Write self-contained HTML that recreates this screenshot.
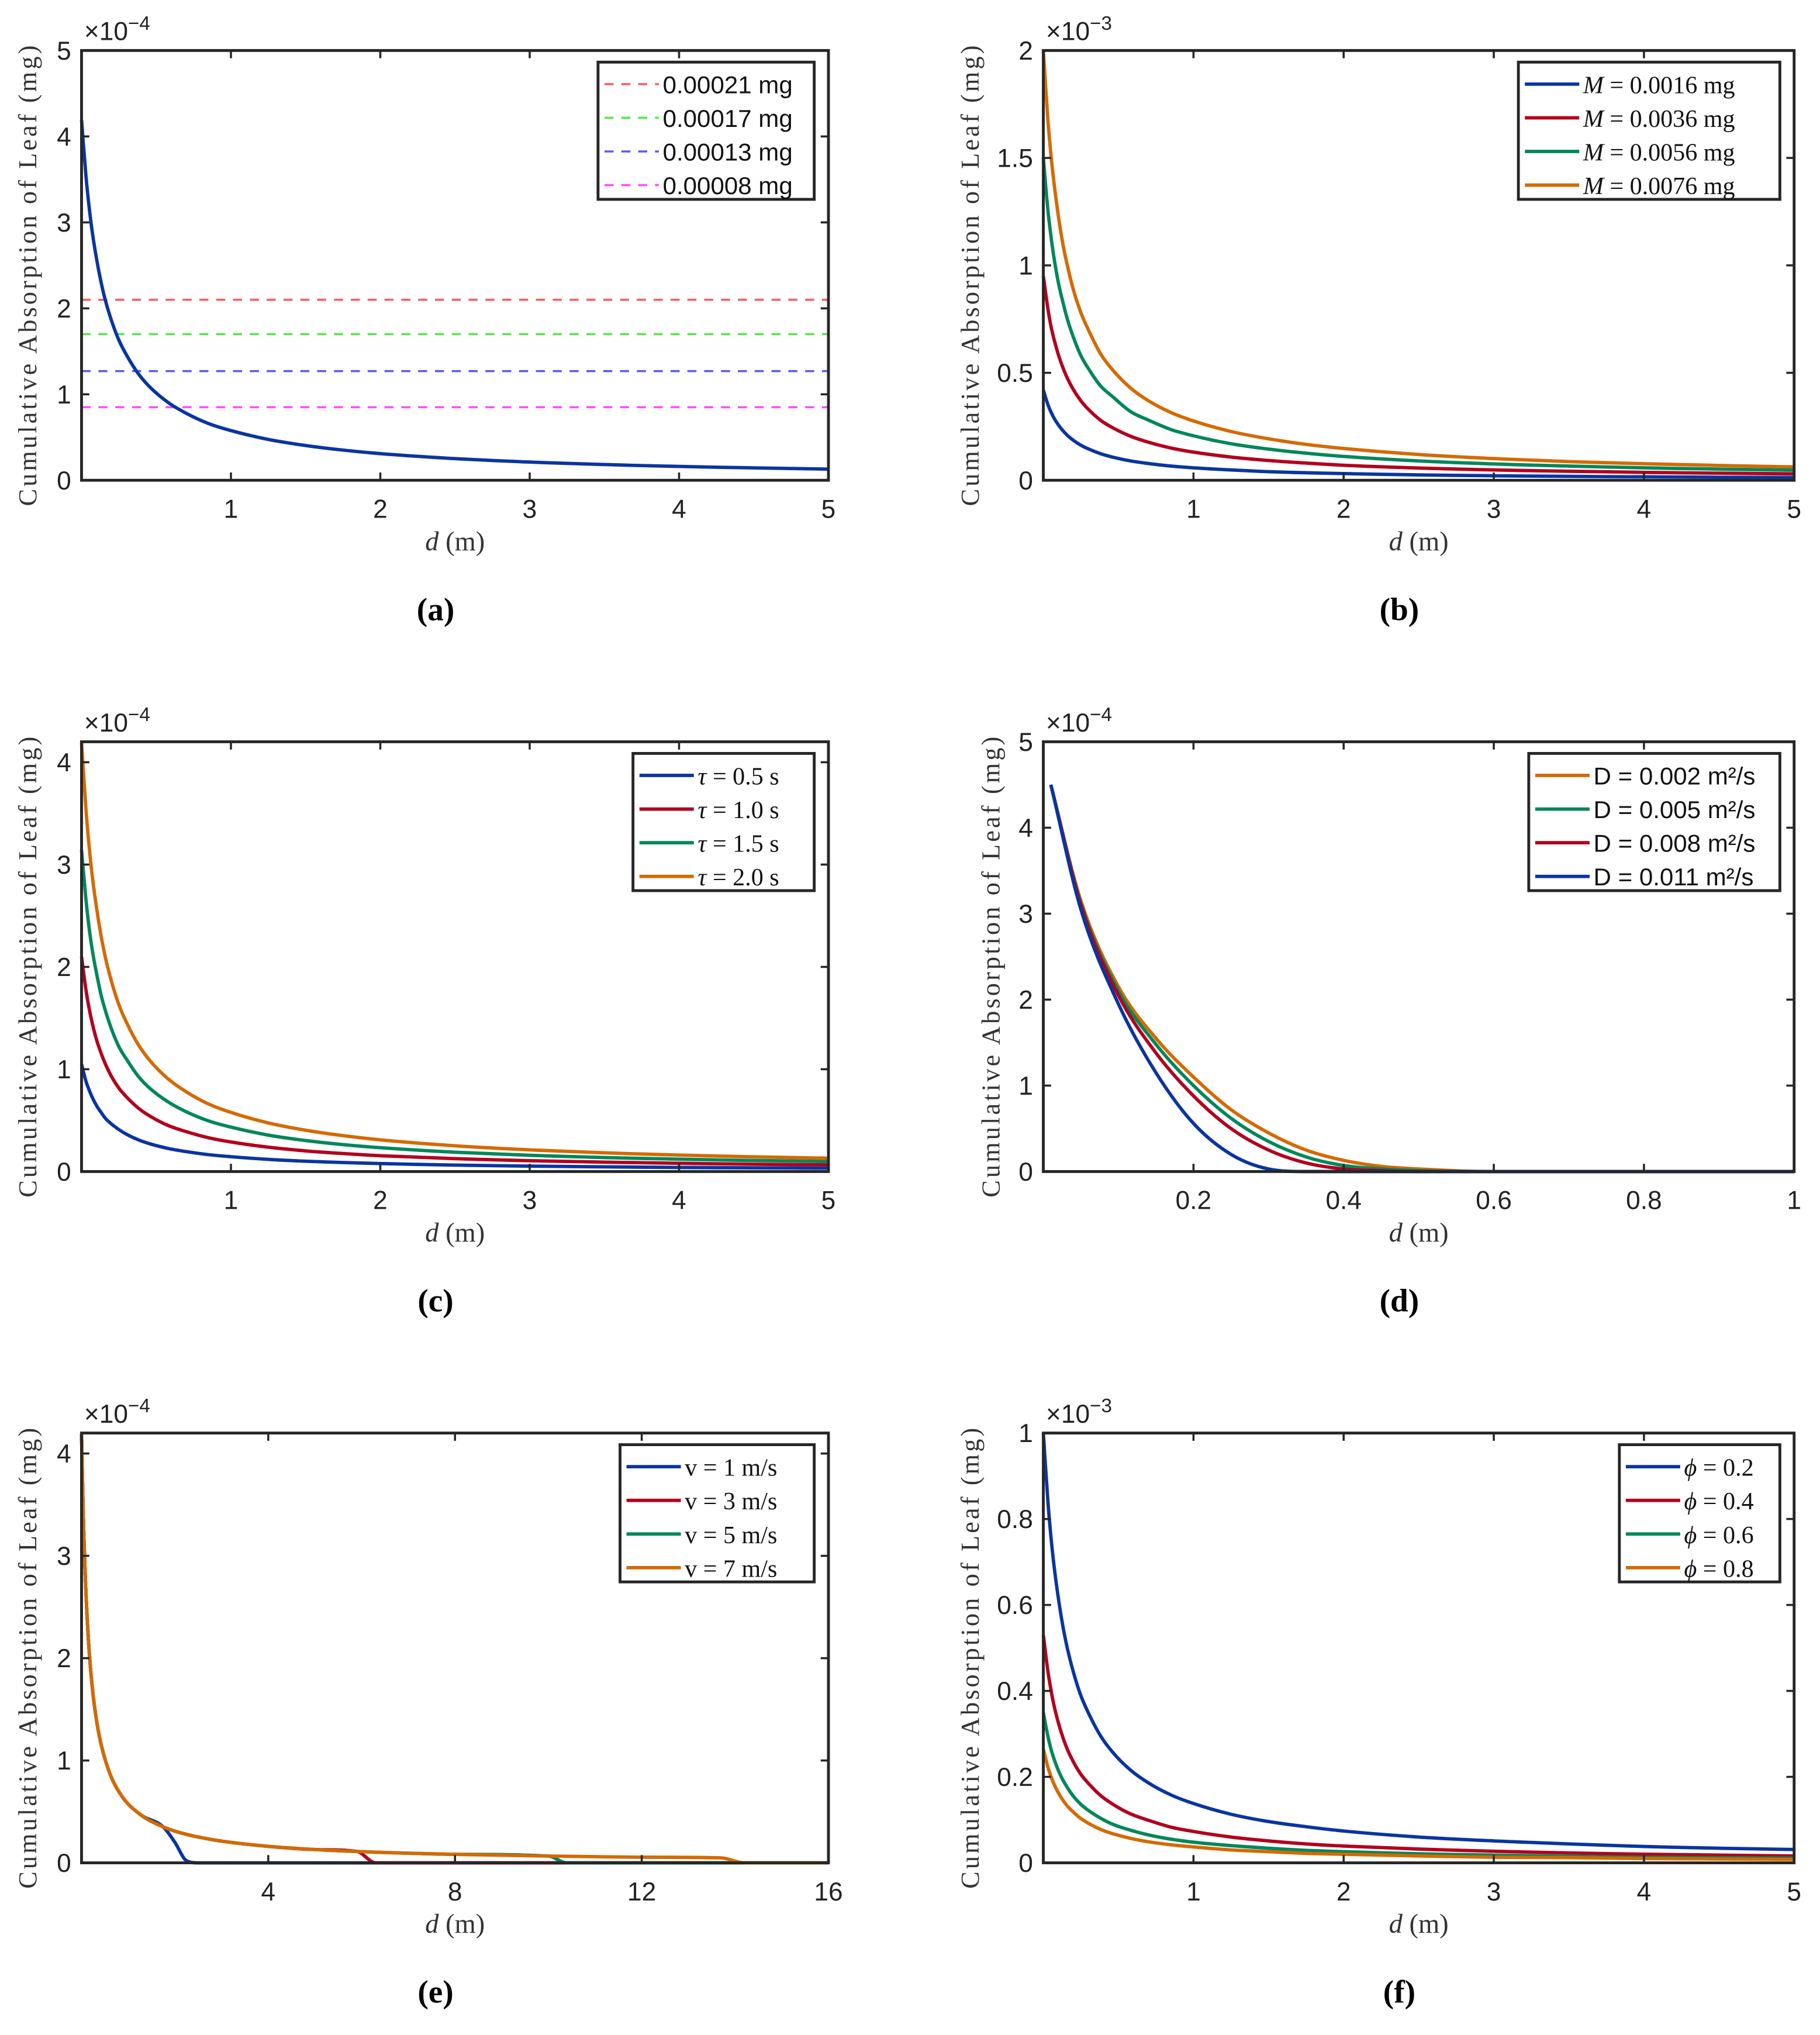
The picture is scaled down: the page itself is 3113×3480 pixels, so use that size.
<!DOCTYPE html>
<html><head><meta charset="utf-8">
<style>
html,body{margin:0;padding:0;background:#fff;}
svg{display:block;}
.tick{font-family:"Liberation Sans",sans-serif;font-size:20px;fill:#222;}
.ylab{font-family:"Liberation Serif",serif;font-size:20px;fill:#333;}
.xlab{font-family:"Liberation Serif",serif;font-size:21px;fill:#333;}
.cap{font-family:"Liberation Serif",serif;font-size:25px;font-weight:bold;fill:#000;}
.leg-sans{font-family:"Liberation Sans",sans-serif;font-size:19px;fill:#111;}
.leg-serif{font-family:"Liberation Serif",serif;font-size:19px;fill:#111;}
</style></head>
<body>
<svg id="fig" width="3113" height="3480" viewBox="0 0 1406 1572" preserveAspectRatio="none" xmlns="http://www.w3.org/2000/svg"></svg>
<script>
// ---------- data ----------
const dA = [0,0.03,0.05,0.07,0.1,0.13,0.16,0.2,0.25,0.3,0.38,0.46,0.58,0.7,0.85,1,1.25,1.5,1.75,2,2.5,3,3.5,4,4.5,5];
const aCurve = [4.19,3.53,3.19,2.91,2.58,2.31,2.09,1.86,1.63,1.46,1.24,1.08,0.905,0.78,0.66,0.578,0.475,0.404,0.351,0.31,0.252,0.212,0.183,0.161,0.144,0.13];
const aLevels = [2.1,1.7,1.27,0.85];
const aLabels = ["0.00021 mg","0.00017 mg","0.00013 mg","0.00008 mg"];

const bOrange = [2.0,1.68,1.52,1.39,1.23,1.10,1.0,0.887,0.78,0.70,0.59,0.515,0.43,0.37,0.315,0.276,0.227,0.193,0.167,0.148,0.12,0.101,0.087,0.077,0.069,0.062];
const bGreen = [1.5,1.26,1.14,1.04,0.92,0.83,0.75,0.666,0.58,0.52,0.44,0.39,0.32,0.28,0.236,0.207,0.17,0.145,0.126,0.111,0.09,0.076,0.066,0.058,0.052,0.047];
const bRed = [0.95,0.80,0.72,0.66,0.585,0.525,0.475,0.422,0.37,0.33,0.28,0.245,0.205,0.177,0.15,0.131,0.108,0.092,0.08,0.07,0.057,0.048,0.042,0.037,0.033,0.03];
const bBlue = [0.42,0.353,0.319,0.291,0.258,0.231,0.209,0.186,0.163,0.146,0.124,0.108,0.09,0.078,0.066,0.058,0.048,0.04,0.035,0.031,0.025,0.021,0.018,0.016,0.014,0.013];
const bLabels = ["= 0.0016 mg","= 0.0036 mg","= 0.0056 mg","= 0.0076 mg"];

const cOrange = [4.19,3.53,3.19,2.91,2.58,2.31,2.09,1.86,1.63,1.46,1.24,1.08,0.905,0.78,0.66,0.578,0.475,0.404,0.351,0.31,0.252,0.212,0.183,0.161,0.144,0.13];
const cGreen = [3.14,2.65,2.39,2.18,1.94,1.73,1.57,1.395,1.22,1.1,0.93,0.81,0.68,0.585,0.495,0.434,0.356,0.303,0.263,0.233,0.189,0.159,0.137,0.121,0.108,0.098];
const cRed = [2.1,1.77,1.6,1.46,1.29,1.16,1.05,0.93,0.815,0.73,0.62,0.54,0.45,0.39,0.33,0.289,0.238,0.202,0.176,0.155,0.126,0.106,0.092,0.081,0.072,0.065];
const cBlue = [1.05,0.88,0.8,0.73,0.645,0.58,0.52,0.465,0.41,0.365,0.31,0.27,0.226,0.195,0.165,0.145,0.119,0.101,0.088,0.078,0.063,0.053,0.046,0.04,0.036,0.033];
const cLabels = ["= 0.5 s","= 1.0 s","= 1.5 s","= 2.0 s"];

const dD = [0.01,0.05,0.1,0.15,0.2,0.25,0.3,0.35,0.4,0.45,0.5,0.6,1];
const dOrange = [4.5,3.15,2.15,1.55,1.1,0.72,0.45,0.25,0.13,0.06,0.03,0,0];
const dGreen = [4.5,3.12,2.1,1.48,1.0,0.62,0.35,0.17,0.07,0.03,0.01,0,0];
const dRed = [4.5,3.1,2.05,1.38,0.88,0.5,0.25,0.1,0.03,0.01,0,0,0];
const dBlue = [4.5,3.05,1.95,1.15,0.56,0.2,0.03,0,0,0,0,0,0];
const dLabels = ["D = 0.002 m²/s","D = 0.005 m²/s","D = 0.008 m²/s","D = 0.011 m²/s"];

const dE = [0,0.03,0.05,0.07,0.1,0.16,0.25,0.38,0.58,0.85,1.25,1.75,2.0,2.25,2.5,3,4,5,5.9,6.3,7,8,10,10.4,12,13.7,14.2,16];
const eOrange = [4.19,3.53,3.19,2.91,2.58,2.09,1.63,1.24,0.905,0.66,0.475,0.351,0.31,0.278,0.252,0.212,0.161,0.13,0.111,0.104,0.094,0.083,0.066,0.064,0.055,0.048,0,0];
const eGreen = [4.19,3.53,3.19,2.91,2.58,2.09,1.63,1.24,0.905,0.66,0.475,0.351,0.31,0.278,0.252,0.212,0.161,0.13,0.111,0.104,0.094,0.083,0.066,0,0,0,0,0];
const eRed = [4.19,3.53,3.19,2.91,2.58,2.09,1.63,1.24,0.905,0.66,0.475,0.351,0.31,0.278,0.252,0.212,0.161,0.13,0.111,0,0,0,0,0,0,0,0,0];
const eBlue = [4.19,3.53,3.19,2.91,2.58,2.09,1.63,1.24,0.905,0.66,0.475,0.351,0.2,0.02,0,0,0,0,0,0,0,0,0,0,0,0,0,0];
const eLabels = ["v = 1 m/s","v = 3 m/s","v = 5 m/s","v = 7 m/s"];

const fBlue = [1.0,0.843,0.761,0.695,0.616,0.551,0.499,0.444,0.389,0.349,0.296,0.258,0.216,0.186,0.158,0.138,0.113,0.096,0.084,0.074,0.06,0.051,0.044,0.038,0.034,0.031];
const fRed = [0.53,0.447,0.404,0.368,0.326,0.292,0.264,0.235,0.206,0.185,0.157,0.137,0.114,0.099,0.083,0.073,0.06,0.051,0.044,0.039,0.032,0.027,0.023,0.02,0.018,0.016];
const fGreen = [0.35,0.295,0.266,0.243,0.215,0.193,0.175,0.155,0.136,0.122,0.104,0.09,0.076,0.065,0.055,0.048,0.04,0.034,0.029,0.026,0.021,0.018,0.015,0.013,0.012,0.011];
const fOrange = [0.265,0.223,0.202,0.184,0.163,0.146,0.132,0.118,0.103,0.092,0.078,0.068,0.057,0.049,0.042,0.037,0.03,0.026,0.022,0.02,0.016,0.013,0.012,0.01,0.009,0.008];
const fLabels = ["= 0.2","= 0.4","= 0.6","= 0.8"];

const ticks15 = [1,2,3,4,5];
const ticksD = [0.2,0.4,0.6,0.8,1];
const ticksE = [4,8,12,16];
const yt5 = [0,1,2,3,4,5];
const ytB = [0,0.5,1,1.5,2];
const yt4 = [0,1,2,3,4];
const ytF = [0,0.2,0.4,0.6,0.8,1];

// ---------- drawing ----------
const NS = "http://www.w3.org/2000/svg";
const svg = document.getElementById("fig");
const BLUE="#0a35a0", RED="#b2001e", GREEN="#00875a", ORANGE="#d46a00";
function mk(tag, attrs, parent){
  const e = document.createElementNS(NS, tag);
  for (const k in attrs) e.setAttribute(k, attrs[k]);
  (parent||svg).appendChild(e); return e;
}
function fmt(v){ return String(+v.toFixed(2)); }
function smoothPath(pts){
  const n = pts.length; if (n<2) return "";
  const dx=[],s=[],m=[];
  for(let i=0;i<n-1;i++){dx[i]=pts[i+1][0]-pts[i][0]; s[i]=(pts[i+1][1]-pts[i][1])/dx[i];}
  m[0]=s[0]; m[n-1]=s[n-2];
  for(let i=1;i<n-1;i++){ m[i]=(s[i-1]*s[i]<=0)?0:(s[i-1]+s[i])/2; }
  for(let i=0;i<n-1;i++){ if(s[i]===0){m[i]=0;m[i+1]=0;continue;}
    const a=m[i]/s[i], b=m[i+1]/s[i], h=a*a+b*b;
    if(h>9){const t=3/Math.sqrt(h); m[i]=t*a*s[i]; m[i+1]=t*b*s[i];} }
  let d="M"+pts[0][0].toFixed(2)+","+pts[0][1].toFixed(2);
  for(let i=0;i<n-1;i++){
    const h=dx[i];
    d+=" C"+(pts[i][0]+h/3).toFixed(2)+","+(pts[i][1]+m[i]*h/3).toFixed(2)+" "+
      (pts[i+1][0]-h/3).toFixed(2)+","+(pts[i+1][1]-m[i+1]*h/3).toFixed(2)+" "+
      pts[i+1][0].toFixed(2)+","+pts[i+1][1].toFixed(2);
  }
  return d;
}

function panel(p){
  const g = mk("g", {});
  
  
  const L=p.x, R=p.x+p.w, T=p.y, B=p.y+p.h;
  const sx = v => L + (v-p.xmin)/(p.xmax-p.xmin)*p.w;
  const sy = v => B - (v-p.ymin)/(p.ymax-p.ymin)*p.h;
  mk("rect",{x:L,y:T,width:p.w,height:p.h,fill:"#fff"},g);
  const sg = mk("g",{},g);
  
  
  if (p.levels){
    p.levels.forEach((lv,i)=>{
      const ln = mk("line",{x1:L,x2:R,y1:sy(lv),y2:sy(lv),stroke:p.colors[i],"stroke-width":1.6,"stroke-dasharray":"7,6"},sg);
      
      
    });
  }
  p.series.forEach((ys,i)=>{
    const pts = p.xs.map((x,j)=>[sx(x), sy(ys[j])]);
    const path = mk("path",{d:smoothPath(pts),fill:"none",stroke:p.scolors[i],"stroke-width":2.6,"stroke-linejoin":"round"},sg);
    
    
  });
  p.xticks.forEach(t=>{
    const X=sx(t);
    mk("line",{x1:X,x2:X,y1:B,y2:B-6,stroke:"#262626","stroke-width":1.6},g);
    mk("line",{x1:X,x2:X,y1:T,y2:T+6,stroke:"#262626","stroke-width":1.6},g);
    const tx = mk("text",{x:X,y:B+29,"text-anchor":"middle",class:"tick"},g);
    tx.textContent = fmt(t);
    
    
  });
  p.yticks.forEach(t=>{
    const Y=sy(t);
    mk("line",{x1:L,x2:L+6,y1:Y,y2:Y,stroke:"#262626","stroke-width":1.6},g);
    mk("line",{x1:R,x2:R-6,y1:Y,y2:Y,stroke:"#262626","stroke-width":1.6},g);
    const ty = mk("text",{x:L-8,y:Y+7,"text-anchor":"end",class:"tick"},g);
    ty.textContent = fmt(t);
    
    
  });
  const box = mk("rect",{x:L,y:T,width:p.w,height:p.h,fill:"none",stroke:"#262626","stroke-width":2.2},g);
  
  
  const ex = mk("text",{x:L+2,y:T-8,class:"tick"},g);
  
  
  const t1 = mk("tspan",{},ex); t1.textContent="×10";
  const t2 = mk("tspan",{dy:-8,"font-size":"15px"},ex); t2.textContent="−"+p.exp;
  const yl = mk("text",{x:0,y:0,transform:"translate("+p.ylx+","+(T+p.h/2+8)+") rotate(-90)","text-anchor":"middle",class:"ylab",textLength:356,lengthAdjust:"spacing"},g);
  yl.textContent = "Cumulative Absorption of Leaf (mg)";
  
  
  const xl = mk("text",{x:L+p.w/2,y:B+54,"text-anchor":"middle",class:"xlab"},g);
  
  
  const xi = mk("tspan",{"font-style":"italic"},xl); xi.textContent="d";
  const xr = mk("tspan",{},xl); xr.textContent=" (m)";
  const cap = mk("text",{x:L+p.w/2-15,y:B+108,"text-anchor":"middle",class:"cap"},g);
  cap.textContent = "("+p.id+")";
  
  
  const lg = mk("g",{},g);
  
  
  const lw = p.leg.w, lx = R - 11 - lw, ly = T + 9;
  mk("rect",{x:lx,y:ly,width:lw,height:106,fill:"#fff",stroke:"#262626","stroke-width":2.2},lg);
  p.leg.labels.forEach((lab,i)=>{
    const yy = ly + 17 + i*26;
    const e = mk("g",{},lg);
    
    
    mk("line",{x1:lx+5,x2:lx+47,y1:yy,y2:yy,stroke:p.leg.colors[i],"stroke-width":p.leg.dash?1.6:2.6,"stroke-dasharray":p.leg.dash?"7,6":"none"},e);
    const tt = mk("text",{x:lx+50,y:yy+7,class:p.leg.serif?"leg-serif":"leg-sans"},e);
    if (p.leg.sym){ const s=mk("tspan",{"font-style":"italic"},tt); s.textContent=p.leg.sym+" "; }
    const r = mk("tspan",{},tt); r.textContent = lab;
  });
}

const LX=63, RX=806, W1=577, W2=580, H=332, R1=39, R2=573, R3=1107;
panel({id:"a",x:LX,y:R1,w:W1,h:H,xmin:0,xmax:5,ymin:0,ymax:5,xs:dA,series:[aCurve],scolors:[BLUE],snames:["absorption"],
  levels:aLevels,colors:["#ff5a5a","#55e84a","#5a5aee","#ff4cff"],xticks:ticks15,yticks:yt5,exp:4,ylx:28,
  leg:{w:167,labels:aLabels,colors:["#ff5a5a","#55e84a","#5a5aee","#ff4cff"],dash:true,serif:false}});
panel({id:"b",x:RX,y:R1,w:W2,h:H,xmin:0,xmax:5,ymin:0,ymax:2,xs:dA,series:[bBlue,bRed,bGreen,bOrange],scolors:[BLUE,RED,GREEN,ORANGE],snames:["m-0-0016","m-0-0036","m-0-0056","m-0-0076"],
  xticks:ticks15,yticks:ytB,exp:3,ylx:756,
  leg:{w:202,labels:bLabels,colors:[BLUE,RED,GREEN,ORANGE],serif:true,sym:"M"}});
panel({id:"c",x:LX,y:R2,w:W1,h:H,xmin:0,xmax:5,ymin:0,ymax:4.2,xs:dA,series:[cBlue,cRed,cGreen,cOrange],scolors:[BLUE,RED,GREEN,ORANGE],snames:["tau-0-5","tau-1-0","tau-1-5","tau-2-0"],
  xticks:ticks15,yticks:yt4,exp:4,ylx:28,
  leg:{w:140,labels:cLabels,colors:[BLUE,RED,GREEN,ORANGE],serif:true,sym:"τ"}});
panel({id:"d",x:RX,y:R2,w:W2,h:H,xmin:0,xmax:1,ymin:0,ymax:5,xs:dD,series:[dOrange,dGreen,dRed,dBlue],scolors:[ORANGE,GREEN,RED,BLUE],snames:["d-0-002","d-0-005","d-0-008","d-0-011"],
  xticks:ticksD,yticks:yt5,exp:4,ylx:772,
  leg:{w:194,labels:dLabels,colors:[ORANGE,GREEN,RED,BLUE],serif:false}});
panel({id:"e",x:LX,y:R3,w:W1,h:H,xmin:0,xmax:16,ymin:0,ymax:4.2,xs:dE,series:[eBlue,eRed,eGreen,eOrange],scolors:[BLUE,RED,GREEN,ORANGE],snames:["v-1","v-3","v-5","v-7"],
  xticks:ticksE,yticks:yt4,exp:4,ylx:28,
  leg:{w:150,labels:eLabels,colors:[BLUE,RED,GREEN,ORANGE],serif:true}});
panel({id:"f",x:RX,y:R3,w:W2,h:H,xmin:0,xmax:5,ymin:0,ymax:1,xs:dA,series:[fBlue,fRed,fGreen,fOrange],scolors:[BLUE,RED,GREEN,ORANGE],snames:["phi-0-2","phi-0-4","phi-0-6","phi-0-8"],
  xticks:ticks15,yticks:ytF,exp:3,ylx:756,
  leg:{w:124,labels:fLabels,colors:[BLUE,RED,GREEN,ORANGE],serif:true,sym:"ϕ"}});
</script>
</body></html>
